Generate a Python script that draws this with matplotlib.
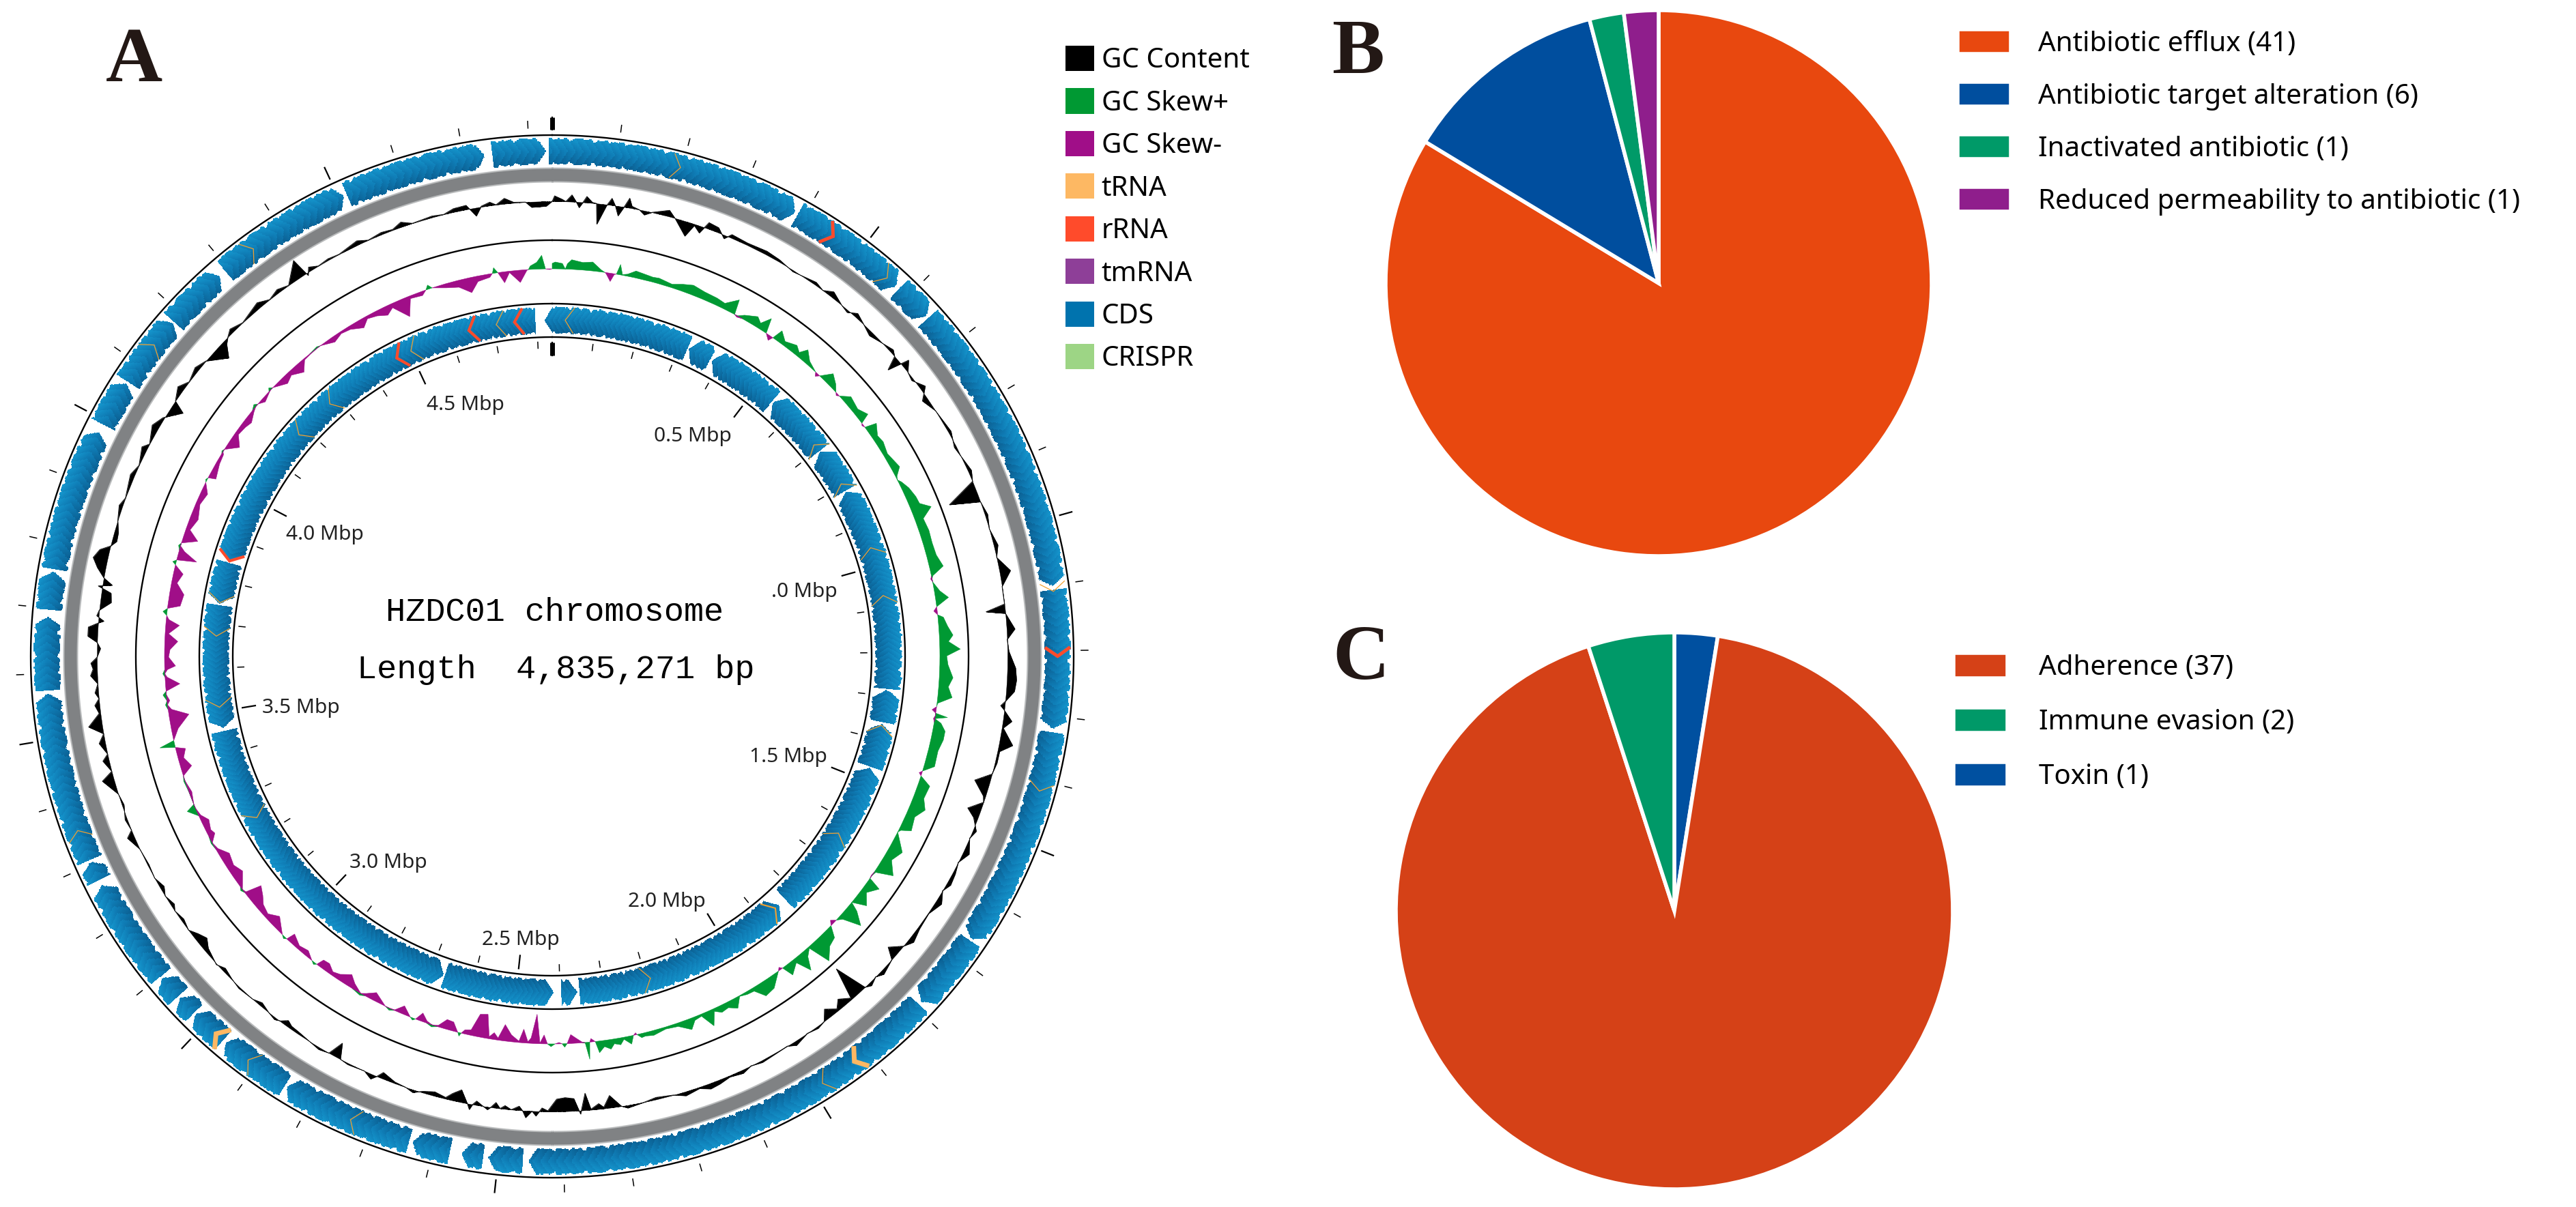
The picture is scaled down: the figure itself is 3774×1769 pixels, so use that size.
import numpy as np
import matplotlib
matplotlib.use('Agg')
import matplotlib.pyplot as plt
from matplotlib.colors import LinearSegmentedColormap
from matplotlib.patches import Patch

W, H = 3774, 1769
GENOME = 4.835271  # Mbp

# GC content track: position (Mbp) and deviation from the ring baseline
GC_POS = [0.000, 0.004, 0.017, 0.023, 0.033, 0.040, 0.046, 0.052, 0.058, 0.068,
          0.075, 0.079, 0.092, 0.100, 0.107, 0.114, 0.122, 0.129, 0.135, 0.148,
          0.158, 0.170, 0.198, 0.210, 0.235, 0.245, 0.257, 0.267, 0.285, 0.300,
          0.310, 0.340, 0.375, 0.400, 0.430, 0.473, 0.490, 0.506, 0.530, 0.545,
          0.560, 0.580, 0.600, 0.617, 0.645, 0.655, 0.665, 0.675, 0.690, 0.705,
          0.726, 0.744, 0.770, 0.813, 0.840, 0.887, 0.905, 0.928, 0.942, 0.966,
          0.990, 1.020, 1.040, 1.066, 1.090, 1.120, 1.130, 1.136, 1.163, 1.180,
          1.200, 1.228, 1.248, 1.267, 1.285, 1.293, 1.300, 1.317, 1.330, 1.356,
          1.370, 1.390, 1.410, 1.428, 1.450, 1.460, 1.478, 1.490, 1.510, 1.525,
          1.550, 1.570, 1.590, 1.610, 1.625, 1.645, 1.670, 1.700, 1.724, 1.740,
          1.758, 1.770, 1.797, 1.810, 1.825, 1.835, 1.850, 1.865, 1.883, 1.895,
          1.912, 1.925, 1.940, 1.960, 1.986, 2.000, 2.050, 2.070, 2.087, 2.110,
          2.130, 2.147, 2.165, 2.190, 2.210, 2.240, 2.260, 2.290, 2.300, 2.318,
          2.330, 2.338, 2.352, 2.360, 2.370, 2.380, 2.395, 2.410, 2.425, 2.435,
          2.445, 2.452, 2.462, 2.468, 2.474, 2.487, 2.498, 2.506, 2.514, 2.522,
          2.527, 2.535, 2.547, 2.553, 2.557, 2.562, 2.576, 2.590, 2.600, 2.620,
          2.640, 2.656, 2.670, 2.690, 2.714, 2.722, 2.730, 2.745, 2.775, 2.790,
          2.800, 2.812, 2.830, 2.850, 2.875, 2.890, 2.900, 2.910, 2.920, 2.935,
          2.954, 2.970, 3.000, 3.020, 3.040, 3.055, 3.085, 3.100, 3.115, 3.130,
          3.150, 3.170, 3.180, 3.200, 3.215, 3.235, 3.260, 3.290, 3.315, 3.325,
          3.345, 3.370, 3.390, 3.418, 3.430, 3.450, 3.460, 3.480, 3.495, 3.510,
          3.530, 3.544, 3.555, 3.565, 3.580, 3.594, 3.605, 3.615, 3.625, 3.640,
          3.650, 3.660, 3.675, 3.683, 3.687, 3.695, 3.705, 3.720, 3.736, 3.745,
          3.750, 3.760, 3.775, 3.790, 3.805, 3.815, 3.825, 3.840, 3.860, 3.885,
          3.900, 3.940, 3.960, 3.990, 4.000, 4.030, 4.050, 4.075, 4.085, 4.107,
          4.125, 4.150, 4.170, 4.200, 4.215, 4.225, 4.237, 4.260, 4.300, 4.320,
          4.340, 4.360, 4.390, 4.397, 4.405, 4.420, 4.440, 4.460, 4.497, 4.515,
          4.540, 4.560, 4.577, 4.595, 4.630, 4.650, 4.668, 4.690, 4.704, 4.715,
          4.730, 4.740, 4.755, 4.770, 4.790, 4.800, 4.825, 4.835]
GC_VAL = [0, 8, 3, 0, 10, 1, -8, 0, 9, 1,
          0, -30, -2, 10, 0, -14, 0, 14, 3, 0,
          -6, 0, 9, 0, -21, -2, -10, 9, 7, -5,
          5, 3, 5, 3, -2, 4, 0, 8, 0, -3,
          6, 0, -6, -2, 5, 0, -20, 12, 0, -3,
          8, -8, 0, 4, -3, 5, 0, -44, 0, 4,
          0, 6, 0, 16, 0, 0, -28, 0, 12, 0,
          2, 12, 14, 12, 0, -6, 0, 13, 2, 20,
          3, 3, 0, -22, -3, 0, -19, -6, 5, 0,
          9, 0, 4, 6, 0, 9, 1, 3, 8, 0,
          -16, 0, 6, 0, 5, 0, -48, -2, -13, -3,
          -14, 0, 3, 0, 6, 0, 3, 0, 5, 2,
          6, 8, 2, 6, 0, -3, 0, 4, 0, -18,
          -2, -8, -1, -25, 5, -18, -20, -18, -1, -5,
          7, 0, 10, 0, -6, 0, -5, 0, -8, 0,
          4, 0, -6, 0, 8, 0, -18, -10, -2, -6,
          -2, 4, 0, -2, -9, 0, 7, 0, 2, 0,
          -22, 0, 3, 0, -3, -4, -8, -1, 3, 0,
          -5, 0, 2, -1, -5, 1, -6, -14, -8, 0,
          -4, 0, -5, 0, -6, 0, -2, 0, 10, 0,
          3, -3, 0, 17, 0, 9, 0, 9, 0, 20,
          2, 7, 0, 5, 0, 10, 6, 9, 0, -5,
          0, 14, 14, 0, -8, 3, 0, -16, -14, 6,
          -14, 0, 12, 21, 14, 0, -7, -6, 0, 5,
          0, 6, 0, 8, 0, 10, 2, -19, 0, 9,
          0, 6, 0, -22, -6, 0, 6, 0, 8, 0,
          5, 0, 26, -4, 6, 0, 2, 0, 6, 0,
          3, 1, 7, 0, 2, 0, 5, 6, -12, 1,
          5, 0, 8, 1, 0, -8, -7, 0]

# GC skew track: positive is green and outward, negative purple and inward
SKEW_POS = [0.000, 0.006, 0.020, 0.026, 0.030, 0.038, 0.060, 0.079, 0.097, 0.105,
            0.108, 0.118, 0.124, 0.128, 0.133, 0.140, 0.150, 0.165, 0.200, 0.212,
            0.240, 0.260, 0.280, 0.305, 0.332, 0.350, 0.372, 0.377, 0.383, 0.395,
            0.419, 0.430, 0.443, 0.450, 0.461, 0.466, 0.473, 0.490, 0.513, 0.525,
            0.535, 0.552, 0.575, 0.580, 0.586, 0.602, 0.620, 0.632, 0.637, 0.642,
            0.658, 0.685, 0.705, 0.712, 0.716, 0.722, 0.729, 0.750, 0.766, 0.790,
            0.824, 0.838, 0.845, 0.852, 0.869, 0.890, 0.905, 0.919, 0.935, 0.960,
            0.985, 1.010, 1.034, 1.048, 1.054, 1.060, 1.080, 1.095, 1.110, 1.118,
            1.126, 1.132, 1.150, 1.168, 1.180, 1.195, 1.208, 1.225, 1.250, 1.268,
            1.288, 1.302, 1.309, 1.316, 1.322, 1.327, 1.333, 1.340, 1.354, 1.371,
            1.394, 1.425, 1.440, 1.445, 1.450, 1.464, 1.490, 1.510, 1.530, 1.557,
            1.565, 1.571, 1.602, 1.625, 1.649, 1.662, 1.672, 1.678, 1.685, 1.705,
            1.725, 1.738, 1.745, 1.761, 1.775, 1.785, 1.793, 1.800, 1.812, 1.830,
            1.850, 1.862, 1.875, 1.887, 1.900, 1.920, 1.928, 1.933, 1.938, 1.964,
            1.985, 2.000, 2.015, 2.030, 2.044, 2.060, 2.075, 2.088, 2.100, 2.115,
            2.130, 2.142, 2.165, 2.190, 2.216, 2.232, 2.240, 2.248, 2.250, 2.255,
            2.262, 2.275, 2.283, 2.295, 2.303, 2.315, 2.326, 2.332, 2.340, 2.343,
            2.346, 2.352, 2.358, 2.369, 2.380, 2.388, 2.393, 2.398, 2.404, 2.412,
            2.420, 2.427, 2.434, 2.442, 2.450, 2.460, 2.466, 2.476, 2.484, 2.500,
            2.515, 2.526, 2.535, 2.544, 2.554, 2.570, 2.582, 2.594, 2.600, 2.603,
            2.607, 2.612, 2.620, 2.634, 2.648, 2.660, 2.672, 2.685, 2.695, 2.700,
            2.706, 2.725, 2.740, 2.750, 2.760, 2.788, 2.805, 2.815, 2.835, 2.850,
            2.870, 2.885, 2.900, 2.914, 2.920, 2.925, 2.932, 2.950, 2.970, 2.993,
            2.998, 3.003, 3.010, 3.040, 3.060, 3.080, 3.095, 3.113, 3.122, 3.130,
            3.137, 3.160, 3.180, 3.205, 3.225, 3.240, 3.255, 3.265, 3.285, 3.300,
            3.317, 3.325, 3.350, 3.375, 3.385, 3.400, 3.420, 3.437, 3.444, 3.450,
            3.458, 3.480, 3.505, 3.520, 3.530, 3.538, 3.550, 3.557, 3.570, 3.585,
            3.592, 3.600, 3.607, 3.625, 3.640, 3.657, 3.672, 3.690, 3.700, 3.708,
            3.715, 3.722, 3.730, 3.754, 3.775, 3.795, 3.810, 3.815, 3.820, 3.826,
            3.840, 3.849, 3.855, 3.868, 3.885, 3.910, 3.940, 3.965, 3.985, 3.990,
            3.995, 4.000, 4.030, 4.050, 4.055, 4.060, 4.080, 4.100, 4.120, 4.135,
            4.155, 4.166, 4.172, 4.185, 4.205, 4.210, 4.216, 4.243, 4.260, 4.283,
            4.300, 4.315, 4.335, 4.342, 4.370, 4.390, 4.410, 4.435, 4.450, 4.470,
            4.490, 4.505, 4.530, 4.545, 4.570, 4.580, 4.586, 4.593, 4.620, 4.645,
            4.668, 4.685, 4.710, 4.716, 4.720, 4.727, 4.738, 4.750, 4.770, 4.785,
            4.788, 4.792, 4.805, 4.815, 4.822, 4.830, 4.835]
SKEW_VAL = [8, 10, 8, 0, 8, 14, 11, 13, 3, 0,
            -2, -12, -1, 0, 15, 1, 3, 10, 7, 8,
            5, 10, 14, 11, 10, 8, 22, 0, -2, 6,
            14, 8, 22, 0, -7, 0, 16, 6, 12, 6,
            17, 6, 0, -5, 0, 16, 8, 0, -3, 0,
            12, 8, 15, 0, -2, 0, 17, 8, 10, 6,
            12, 2, 0, 4, 10, 14, 15, 29, 12, 14,
            13, 14, 20, 2, -2, 0, 8, 19, 0, -5,
            0, 8, 13, 20, 13, 30, 10, 12, 20, 14,
            21, 1, 0, -6, 0, 18, -2, 10, 18, 18,
            14, 15, 0, -4, 0, 17, 15, 23, 13, 17,
            3, 0, 20, 12, 26, 2, -1, 0, 20, 8,
            20, 0, 14, 32, 6, 0, -6, 0, 16, 20,
            35, 2, 10, 28, 6, 17, 0, -4, 0, 17,
            20, 5, 4, 1, 15, 8, 10, 4, 23, 3,
            5, 16, 5, 3, 7, 5, 6, 0, -3, 0,
            12, 3, 10, 7, 14, 9, 17, 0, -5, 0,
            25, 1, -1, -7, -13, 0, 5, 0, -2, 0,
            4, 0, -13, -1, -43, -8, -2, -20, -2, -10,
            -24, -3, -10, -3, -35, -33, -8, -6, 0, 5,
            0, -5, -13, -14, -2, 3, -3, -12, 0, 3,
            0, -12, -1, 3, 0, -12, -4, 3, -8, -17,
            -8, -5, -12, -11, 0, 3, 0, -8, -5, -13,
            0, 3, 0, -16, -6, -10, -18, -25, -2, 3,
            -4, -16, -10, -14, -3, 2, -10, -7, -11, -3,
            13, 0, -4, 2, 0, -16, -8, -14, 0, 22,
            0, -10, -29, -5, 3, -4, 5, 0, -21, -3,
            3, -4, -16, -6, -8, -19, -5, -20, -4, 0,
            6, 0, -18, -21, -8, -14, 0, 5, 0, -29,
            -8, 3, 0, -22, -6, -12, -6, -10, 0, 2,
            0, -11, -5, -3, 2, 0, -17, -5, -7, -10,
            -3, 4, 0, -6, -1, 4, 0, -11, -6, -15,
            -2, -1, 2, 0, -8, -3, -5, -13, -4, -7,
            -13, -6, -28, -4, -6, 0, 6, 0, -6, -10,
            -22, -8, -5, 0, 8, 0, -16, -2, -18, -1,
            0, 5, 10, 20, 0, -1, 0]

# CDS rings: white gaps between gene runs (position, width in Mbp)
OUTER_GAP_POS = [4.828, 4.738, 4.511, 4.288, 4.183, 4.067, 3.986, 3.758, 3.692, 3.572,
                 3.305, 3.269, 3.097, 3.057, 3.022, 2.960, 2.844, 2.636, 2.565, 2.519,
                 2.458, 1.790, 1.667, 1.322, 1.104, 0.643, 0.579, 0.388]
OUTER_GAP_W = [0.004, 0.012, 0.006, 0.012, 0.003, 0.005, 0.014, 0.004, 0.010, 0.004,
               0.003, 0.010, 0.004, 0.005, 0.004, 0.005, 0.004, 0.006, 0.018, 0.008,
               0.008, 0.006, 0.004, 0.005, 0.006, 0.005, 0.007, 0.006]
INNER_GAP_POS = [4.807, 3.846, 3.746, 3.458, 2.669, 2.405, 2.358, 1.839, 1.467, 1.362,
                 1.284, 0.815, 0.706, 0.549, 0.379, 0.320]
INNER_GAP_W = [0.020, 0.006, 0.003, 0.008, 0.004, 0.018, 0.005, 0.022, 0.004, 0.005,
               0.003, 0.003, 0.003, 0.004, 0.005, 0.003]

# RNA genes on each ring (Mbp)
OUTER_RRNA = [0.440, 1.195]
OUTER_TRNA_WIDE = [1.911, 2.964]
OUTER_TRNA = [0.184, 0.544, 1.096, 1.403, 1.970, 2.720, 2.901, 3.342, 4.124, 4.335]
INNER_RRNA = [3.868, 4.486, 4.663, 4.769]
INNER_TRNA_WIDE = [1.880]
INNER_TRNA = [0.050, 0.706, 0.815, 0.976, 1.089, 1.388, 1.655, 2.210, 3.262, 3.530,
              3.693, 3.770, 4.200, 4.300, 4.522, 4.727]

MAP_LABELS = ['0.5 Mbp', '.0 Mbp', '1.5 Mbp', '2.0 Mbp', '2.5 Mbp',
              '3.0 Mbp', '3.5 Mbp', '4.0 Mbp', '4.5 Mbp']
MAP_LABEL_X = [1015, 1178, 1155, 977, 763, 569, 441, 476, 682]
MAP_LABEL_Y = [640, 868, 1109, 1321, 1377, 1264, 1037, 783, 593]

FEATURE_NAMES = ['GC Content', 'GC Skew+', 'GC Skew-', 'tRNA', 'rRNA', 'tmRNA', 'CDS', 'CRISPR']
FEATURE_COLORS = ['#000000', '#009933', '#A00E88', '#FDB863', '#FF4B2B', '#8E3F98', '#0073AE', '#9DD585']

RES_LABELS = ['Antibiotic efflux (41)', 'Antibiotic target alteration (6)',
              'Inactivated antibiotic (1)', 'Reduced permeability to antibiotic (1)']
RES_COUNTS = [41, 6, 1, 1]
RES_COLORS = ['#E8480F', '#004E9E', '#009A68', '#8F1E8C']

VIR_LABELS = ['Adherence (37)', 'Immune evasion (2)', 'Toxin (1)']
VIR_COUNTS = [37, 2, 1]
VIR_COLORS = ['#D54117', '#009968', '#0050A0']

SANS = 'Noto Sans'
cds_cmap = LinearSegmentedColormap.from_list('cds', ['#0A5A8C', '#0F7DB6', '#1597CE'])
TOOTH = np.array([0.15, 0.55, 0.25, 0.8, 0.1, 0.4, 0.95, 0.3, 0.6, 0.2, 0.7, 0.35])
HEAD_PX = 13


def theta_of(mbp):
    return np.asarray(mbp, dtype=float) / GENOME * 2 * np.pi


def px_box(x0, y0, x1, y1):
    # figure fractions for an axes box given in image pixels
    return [x0 / W, 1 - y1 / H, (x1 - x0) / W, (y1 - y0) / H]


def draw_cds(ax, r_lo, r_hi, gap_pos, gap_w, direction):
    dp = 0.0016
    pos_edges = np.arange(0, GENOME + dp, dp)
    r_edges = np.arange(r_lo, r_hi + 1.5, 1.5)
    pos = 0.5 * (pos_edges[:-1] + pos_edges[1:])
    rad = 0.5 * (r_edges[:-1] + r_edges[1:])
    P, R = np.meshgrid(pos, rad)
    mid, half = 0.5 * (r_lo + r_hi), 0.5 * (r_hi - r_lo)
    u = (R - mid) / half
    head = HEAD_PX / mid * GENOME / (2 * np.pi)
    step = 0.012
    p = direction * P
    s = p + np.abs(u) * head
    n = np.floor(s / step).astype(int)
    f = s / step - n
    keep = np.abs(u) < 1 - 0.3 * TOOTH[n % len(TOOTH)] * (1 - f)
    for g, w in zip(gap_pos, gap_w):
        g0, g1 = direction * g - w / 2, direction * g + w / 2
        keep &= ~((s > g0) & (p < g1))
    shade = np.ma.masked_where(~keep, 0.78 * 0.5 * (u + 1) + 0.22 * f)
    ax.pcolormesh(theta_of(pos_edges), r_edges, shade, cmap=cds_cmap, vmin=0, vmax=1,
                  shading='flat', antialiased=False, linewidth=0)


def draw_rna(ax, positions, r_lo, r_hi, direction, color, lw):
    mid = 0.5 * (r_lo + r_hi)
    head = HEAD_PX / mid * GENOME / (2 * np.pi)
    for p in positions:
        ax.plot(theta_of([p, p + direction * head, p]), [r_lo + 1, mid, r_hi - 1],
                color=color, lw=lw, solid_joinstyle='miter', solid_capstyle='butt', zorder=4)


def fill_track(ax, pos, vals, base, color):
    th = theta_of(pos)
    mask = vals != 0
    mask = mask | np.roll(mask, 1) | np.roll(mask, -1)
    ax.fill_between(th, base, base + vals, where=mask, color=color, linewidth=0.4)


fig = plt.figure(figsize=(W / 100, H / 100), dpi=100, facecolor='white')

# panel A, genome map on a polar axes 1600 px wide centred on the rings
cx, cy = 809, 962
ax = fig.add_axes(px_box(cx - 800, cy - 800, cx + 800, cy + 800), projection='polar')
ax.set_theta_zero_location('N')
ax.set_theta_direction(-1)
ax.set_ylim(0, 800)
ax.set_axis_off()

ring = np.linspace(0, 2 * np.pi, 1441)
for r in [764, 610, 517, 468]:
    ax.plot(ring, np.full_like(ring, r), color='black', lw=1.7, zorder=3)
ax.fill_between(ring, 695, 717, color='#B9BBBC', linewidth=0)
ax.fill_between(ring, 697, 715, color='#808284', linewidth=0)

draw_cds(ax, 721, 760, OUTER_GAP_POS, OUTER_GAP_W, 1)
draw_cds(ax, 473, 513, INNER_GAP_POS, INNER_GAP_W, -1)
draw_rna(ax, OUTER_TRNA, 721, 760, 1, '#F0A030', 0.9)
draw_rna(ax, OUTER_TRNA_WIDE, 721, 760, 1, '#FDB863', 5)
draw_rna(ax, OUTER_RRNA, 721, 760, 1, '#FF4B2B', 3.5)
draw_rna(ax, INNER_TRNA, 473, 513, -1, '#F0A030', 0.9)
draw_rna(ax, INNER_TRNA_WIDE, 473, 513, -1, '#F0A030', 1.5)
draw_rna(ax, INNER_RRNA, 473, 513, -1, '#FF4B2B', 3)

gc_pos = np.array(GC_POS)
gc_val = np.array(GC_VAL, dtype=float)
ax.fill_between(theta_of(gc_pos), 667, 667 + gc_val, color='black', linewidth=0.3)
ax.plot(theta_of(gc_pos), 667 + gc_val, color='black', lw=0.6)

skew_pos = np.array(SKEW_POS)
skew_val = np.array(SKEW_VAL, dtype=float)
fill_track(ax, skew_pos, np.clip(skew_val, 0, None), 568, '#009933')
fill_track(ax, skew_pos, np.clip(skew_val, None, 0), 568, '#A00E88')

# map scale, one tick every 0.1 Mbp outside the big ring and inside the small one
for t in np.arange(0, GENOME, 0.1):
    major = round(t * 10) % 5 == 0
    th = theta_of(t)
    lw = 1.6 if major else 1.1
    ax.plot([th, th], [772, 790] if major else [775, 785], color='black', lw=lw)
    ax.plot([th, th], [441, 460] if major else [452, 461], color='black', lw=lw)
for r0, r1 in [(772, 790), (441, 460)]:
    ax.plot([0, 0], [r0, r1], color='black', lw=5, solid_capstyle='butt')


def px_text(x, y, s, **kw):
    fig.text(x / W, 1 - y / H, s, ha='center', va='center', **kw)


for s, x, y in zip(MAP_LABELS, MAP_LABEL_X, MAP_LABEL_Y):
    px_text(x, y, s, fontsize=21.5, family=SANS, color='#222222')
px_text(813, 897, 'HZDC01 chromosome', fontsize=35, family='Liberation Mono')
px_text(814, 982, 'Length  4,835,271 bp', fontsize=35, family='Liberation Mono')

for s, x, y in [('A', 196, 91), ('B', 1990, 79), ('C', 1994, 967)]:
    px_text(x, y, s, fontsize=83, family='Liberation Serif', weight='bold', color='#231815')

handles = [Patch(facecolor=c, edgecolor='none') for c in FEATURE_COLORS]
fig.legend(handles, FEATURE_NAMES, loc='upper left', bbox_to_anchor=(1561 / W, 1 - 67 / H),
           frameon=False, prop={'family': SANS, 'size': 29}, borderpad=0, borderaxespad=0,
           handlelength=1.04, handleheight=1.04, handletextpad=0.27, labelspacing=0.5)

# panel B, resistance mechanisms
ax_b = fig.add_axes(px_box(2030, 15, 2830, 815))
wedges_b, _ = ax_b.pie(RES_COUNTS, colors=RES_COLORS, startangle=90, counterclock=False,
                       radius=1, wedgeprops={'edgecolor': 'white', 'linewidth': 4})
ax_b.set_xlim(-1, 1)
ax_b.set_ylim(-1, 1)
fig.legend(wedges_b, RES_LABELS, loc='upper left', bbox_to_anchor=(2868 / W, 1 - 43 / H),
           frameon=False, prop={'family': SANS, 'size': 29}, borderpad=0, borderaxespad=0,
           handlelength=1.93, handleheight=0.98, handletextpad=1.0, labelspacing=0.88)

# panel C, virulence factors, drawn clockwise from the top starting with the toxin slice
order = [2, 0, 1]
ax_c = fig.add_axes(px_box(2045, 927, 2861, 1743))
wedges_c, _ = ax_c.pie([VIR_COUNTS[i] for i in order], colors=[VIR_COLORS[i] for i in order],
                       startangle=90, counterclock=False, radius=1,
                       wedgeprops={'edgecolor': 'white', 'linewidth': 4})
ax_c.set_xlim(-1, 1)
ax_c.set_ylim(-1, 1)
fig.legend([wedges_c[1], wedges_c[2], wedges_c[0]], VIR_LABELS, loc='upper left',
           bbox_to_anchor=(2862 / W, 1 - 957 / H),
           frameon=False, prop={'family': SANS, 'size': 29}, borderpad=0, borderaxespad=0,
           handlelength=1.95, handleheight=1.05, handletextpad=1.15, labelspacing=0.93)

fig.savefig('out.png', dpi=100)
